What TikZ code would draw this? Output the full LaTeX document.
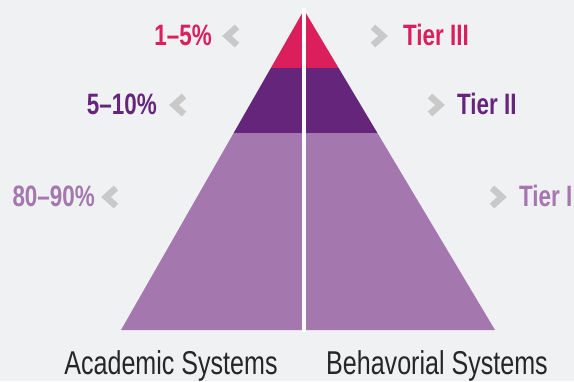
\documentclass[tikz,border=0pt]{standalone}
\usepackage{fontspec}
\setmainfont[FakeStretch=0.76]{Liberation Sans}
\newfontfamily\capfont[FakeStretch=0.76]{Liberation Sans}
\usepackage{tikz}
\usetikzlibrary{positioning}
\definecolor{bgcol}{RGB}{240,241,243}
\definecolor{tierthree}{RGB}{218,31,92}
\definecolor{tiertwo}{RGB}{100,37,123}
\definecolor{tierone}{RGB}{164,119,174}
\definecolor{chevcol}{RGB}{201,201,201}
\tikzset{
    %Define style for the percentage and tier labels
    pct/.style={
           inner sep=0pt,
           anchor=east,
           font=\bfseries\fontsize{29.5}{31}\selectfont},
    tier/.style={
           inner sep=0pt,
           anchor=west,
           font=\bfseries\fontsize{29.5}{31}\selectfont},
    annote/.style={
           inner sep=0pt,
           anchor=base,
           text=black!85,
           font=\capfont\fontsize{33}{35}\selectfont},
    % Define style for the grey chevrons
    chevron/.style={
           draw=chevcol,
           line width=6.5pt,
           line join=miter},
}
\begin{document}
\begin{tikzpicture}[x=1pt,y=-1pt]
\fill[bgcol] (0,0) rectangle (574,381);
\useasboundingbox (0,0) rectangle (574,381);
% pyramid corners
\coordinate (apex) at (304,10);
\coordinate (bl) at (121,330);
\coordinate (br) at (495,330);
\begin{scope}
\clip (apex) -- (bl) -- (br) -- cycle;
\fill[tierthree] (100,0) rectangle (520,68);
\fill[tiertwo]   (100,68) rectangle (520,133);
\fill[tierone]   (100,133) rectangle (520,340);
\end{scope}
\coordinate (top) at (304,8);
\coordinate (bottom) at (304,332);
\draw[white, line width=4.5pt] (top) -- (bottom);
% left side: percentages
\node[pct, text=tierthree] (p3) at (212,35) {1–5\%};
\node[pct, text=tiertwo]   (p2) at (157,104) {5–10\%};
\node[pct, text=tierone]   (p1) at (95,196) {80–90\%};
\coordinate (cl3) at (227,36);
\coordinate (cl2) at (174,105);
\coordinate (cl1) at (106,197);
\foreach \c in {cl1,cl2,cl3}
  \draw[chevron] ([shift={(10,-9)}]\c) -- (\c) -- ([shift={(10,9)}]\c);
% right side: tiers
\node[tier, text=tierthree] (t3) at (403,35) {Tier III};
\node[tier, text=tiertwo]   (t2) at (457,104) {Tier II};
\node[tier, text=tierone]   (t1) at (519,196) {Tier I};
\coordinate (cr3) at (383,36);
\coordinate (cr2) at (440,105);
\coordinate (cr1) at (502,197);
\foreach \c in {cr1,cr2,cr3}
  \draw[chevron] ([shift={(-10,-9)}]\c) -- (\c) -- ([shift={(-10,9)}]\c);
% captions
\node[annote] (acad) at (171,374) {Academic Systems};
\node[annote] (behav) at (437,374) {Behavorial Systems};
\end{tikzpicture}
\end{document}
